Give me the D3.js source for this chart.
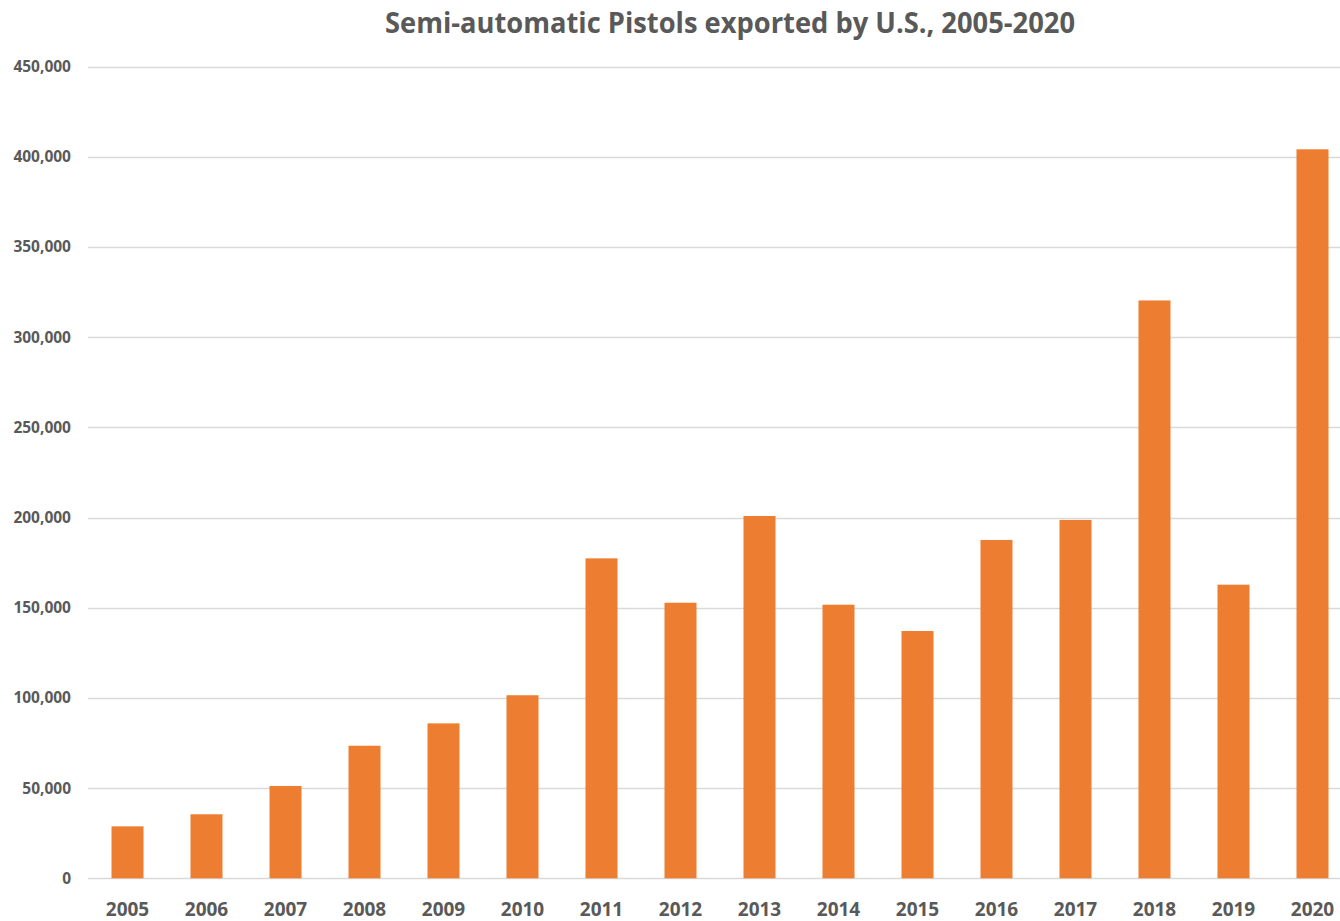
<!DOCTYPE html>
<html lang='en'>
  <head>
    <meta charset='utf-8'>
    <style>
      body { margin: 0; background: #fff; }
      svg { display: block; font-family: 'Open Sans', 'Liberation Sans', sans-serif; }
    </style>
  </head>
  <body>
    <div id='chart'></div>
    <script src='https://cdn.jsdelivr.net/npm/d3@7/dist/d3.min.js'></script>
    <script>
      var years = ['2005', '2006', '2007', '2008', '2009', '2010', '2011', '2012',
                   '2013', '2014', '2015', '2016', '2017', '2018', '2019', '2020'];
      var exported = [28800, 35500, 51200, 73500, 85900, 101500, 177400, 152800,
                      200900, 151700, 137100, 187600, 198700, 320400, 162800, 404200];
      var yTicks = [0, 50000, 100000, 150000, 200000, 250000, 300000, 350000, 400000, 450000];

      var width = 1340, height = 921;
      // plot edges (right edge runs past the window, like the original)
      var plotLeft = 88, plotRight = 1352, plotTop = 66.7, plotBottom = 878.3;

      var svg = d3.select('#chart').append('svg')
          .attr('width', width)
          .attr('height', height);

      var x = d3.scaleBand()
          .domain(years)
          .range([plotLeft, plotRight])
          .paddingInner(0.595)
          .paddingOuter(0.2975);

      var y = d3.scaleLinear()
          .domain([0, 450000])
          .range([plotBottom, plotTop]);

      // gridlines
      svg.append('g')
        .selectAll('line')
          .data(yTicks)
        .enter().append('line')
          .attr('x1', plotLeft)
          .attr('x2', plotRight)
          .attr('y1', function (d) { return Math.round(y(d)) + 0.5; })
          .attr('y2', function (d) { return Math.round(y(d)) + 0.5; })
          .attr('stroke', '#d9d9d9')
          .attr('stroke-width', 1.5);

      // y labels
      var fmt = d3.format(',');
      svg.append('g')
        .selectAll('text')
          .data(yTicks)
        .enter().append('text')
          .attr('x', 71)
          .attr('y', function (d) { return y(d); })
          .attr('dy', '0.35em')
          .attr('text-anchor', 'end')
          .attr('font-size', 15.5)
          .attr('font-weight', 'bold')
          .attr('fill', '#595959')
          .text(function (d) { return fmt(d); });

      // bars
      svg.append('g')
        .selectAll('rect')
          .data(exported)
        .enter().append('rect')
          .attr('x', function (d, i) { return x(years[i]); })
          .attr('y', function (d) { return y(d); })
          .attr('width', x.bandwidth())
          .attr('height', function (d) { return y(0) - y(d); })
          .attr('fill', '#ed7d31');

      // x labels
      svg.append('g')
        .selectAll('text')
          .data(years)
        .enter().append('text')
          .attr('x', function (d) { return x(d) + x.bandwidth() / 2; })
          .attr('y', 916)
          .attr('text-anchor', 'middle')
          .attr('font-size', 19)
          .attr('font-weight', 'bold')
          .attr('fill', '#595959')
          .text(function (d) { return d; });

      svg.append('text')
          .attr('x', 730)
          .attr('y', 33)
          .attr('text-anchor', 'middle')
          .attr('font-size', 29)
          .attr('font-weight', 'bold')
          .attr('fill', '#595959')
          .attr('textLength', 690)
          .attr('lengthAdjust', 'spacingAndGlyphs')
          .text('Semi-automatic Pistols exported by U.S., 2005-2020');
    </script>
  </body>
</html>
